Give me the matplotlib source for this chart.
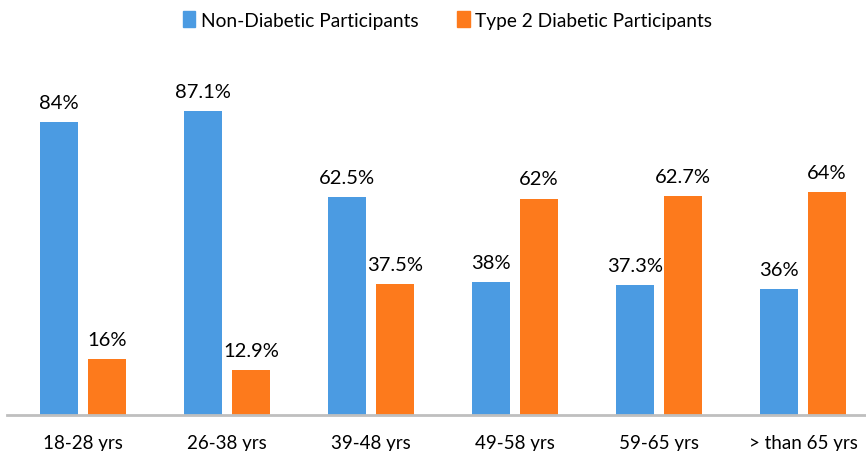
import matplotlib
matplotlib.use("Agg")
import matplotlib.pyplot as plt
import numpy as np
from matplotlib.patches import Patch

plt.rcParams['font.family'] = ['Lato', 'DejaVu Sans']

categories = ["18-28 yrs", "26-38 yrs", "39-48 yrs", "49-58 yrs", "59-65 yrs", "> than 65 yrs"]
non_diabetic = [84, 87.1, 62.5, 38, 37.3, 36]
type2_diabetic = [16, 12.9, 37.5, 62, 62.7, 64]
series_names = ["Non-Diabetic Participants", "Type 2 Diabetic Participants"]

blue = "#4b9be2"
orange = "#fd7a1c"

W, H = 866, 452
fig = plt.figure(figsize=(W / 100, H / 100), dpi=100)
ax = fig.add_axes([7 / W, 1 - 416 / H, 1 - 7 / W, (416 - 60) / H])

x = np.arange(len(categories))
bw = 0.264
off = 0.167

b1 = ax.bar(x - off, non_diabetic, bw, color=blue, edgecolor=blue, linewidth=0)
b2 = ax.bar(x + off, type2_diabetic, bw, color=orange, edgecolor=orange, linewidth=0)

for bars, vals in ((b1, non_diabetic), (b2, type2_diabetic)):
    for rect, v in zip(bars, vals):
        ax.annotate(f"{v:g}%", (rect.get_x() + rect.get_width() / 2, v),
                    xytext=(0, 8), textcoords="offset points",
                    ha="center", va="bottom", fontsize=14.5, color="#000000")

ax.set_xlim(-0.528, 5.437)
ax.set_ylim(0, 102)
ax.set_xticks(x)
ax.set_xticklabels(categories, fontsize=13.5, color="#000000")
ax.tick_params(axis="x", length=0, pad=14)
ax.set_yticks([])
for s in ("top", "right", "left"):
    ax.spines[s].set_visible(False)
ax.spines["bottom"].set_color("#bfbfbf")
ax.spines["bottom"].set_linewidth(2)

handles = [Patch(facecolor=blue, edgecolor=blue), Patch(facecolor=orange, edgecolor=orange)]
fig.legend(handles, series_names, loc="center", bbox_to_anchor=(0.517, 1 - 21 / H),
           ncol=2, frameon=False, fontsize=13.8, handlelength=0.65, handleheight=0.9,
           handletextpad=0.3, columnspacing=2.0)

fig.savefig("out.png", dpi=100)
